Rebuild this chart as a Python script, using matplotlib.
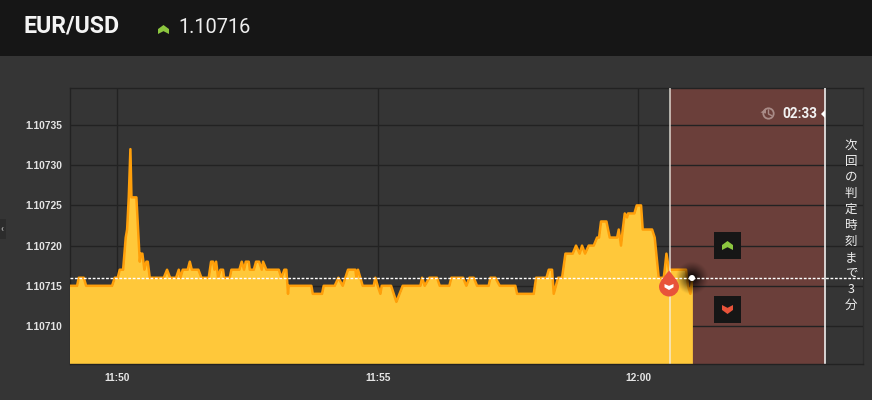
import numpy as np
import matplotlib
matplotlib.use("Agg")
import matplotlib.pyplot as plt
from matplotlib.patches import Circle, Polygon, Rectangle, PathPatch
from matplotlib.path import Path

W, H = 872, 400
pair = "EUR/USD"
current_price = 1.10716
countdown = "02:33"
side_label = list("次回の判定時刻まで3分")
y_ticks = [1.10710, 1.10715, 1.10720, 1.10725, 1.10730, 1.10735]
x_ticks = [0, 300, 600]
x_labels = ["11:50", "11:55", "12:00"]
entry_time = 636
expiry_time = 815

# seconds after 11:50
seconds = [-54.1,-46.4,-44.5,-38.7,-36,-6.1,-3,.4,2.7,6.6,9.6,11.2,13.1,15,16.2,21.9,25.8,26.9,28.8,31.1,33.4,35,37.3,
 53.4,57.2,60.7,67.6,70.7,72.6,75.3,81,83.4,85.7,93.3,96.8,105.2,107.9,110.2,111.8,113.7,116,118.7,121.7,122.9,129.4,
 131.3,140.5,143.2,145.9,147.9,151.3,152.5,157.1,159.7,163.2,166.3,167.8,171.6,185.9,188.9,192.3,194.6,196.5,197.3,
 223.4,225,235.7,237.6,250.3,254.5,259.5,265.6,274.1,275.2,277.1,282.5,295.2,297.1,299.8,302.9,304.4,315.2,321.3,328.6,
 349,350.9,353.9,359.3,368.1,371.2,382.3,384.6,398.1,401.9,405.4,410.4,414.2,427.6,429.6,435.3,440.3,458.3,460.3,479.5,
 482.2,494.1,496.8,500.6,502.5,507.5,512.1,516,524.4,528.2,532.4,535.1,538.6,542.8,548.6,552.4,554.7,557,563.2,567,575.5,
 577.4,580,582,584.3,587,588.1,595.4,598.1,603.1,605,615.8,618.8,623.4,629.2,630.3,632.3,635.3,653,654.9,657.2,659.9,662.2]
# fifth and sixth decimals of the quote, on top of 1.107
points = [15,15,16,16,15,15,16,16,17,17,21,22,26,32,26,26,18,19,19,17,18,18,16,
 16,17,16,16,17,16,17,17,18,17,17,16,16,18,18,17,18,16,17,17,16,16,
 17,17,18,17,18,18,17,17,18,18,17,18,17,17,16,17,17,14,15,
 15,14,14,15,15,16,15,17,17,16,17,15,15,16,15,14,15,15,13,15,
 15,16,15,16,16,15,15,16,16,15,16,16,15,15,16,16,15,15,14,14,
 16,16,17,17,14,16,16,19,19,20,19,20,19,20,20,21,21,23,23,21,21,
 22,20,22,24,23.5,24,24,25,25,22,22,21,16,16,17,19,17,17,17,15,14,16]
prices = [1.107 + p * 1e-5 for p in points]

BG = "#353535"; HEAD = "#161616"; GRID = "#222222"; PANEL = "#6b3f3a"
FILL = "#ffc83a"; LINE = "#ff9f0a"; TXT = "#e4e4e4"
GREEN = "#8cc63f"; RED = "#e8533a"

fig = plt.figure(figsize=(W / 100, H / 100), dpi=100, facecolor=BG)
L, R, T, B = 69.5, 863, 88, 364
ax = fig.add_axes([L / W, 1 - B / H, (R - L) / W, (B - T) / H], facecolor=BG)
sec_per_px = 60 / 52.1
px_per_price = 8.04e5
x0 = -54.1 - 0.9 * sec_per_px
xlim = (x0, x0 + (R - L) * sec_per_px)
ylim = (1.10710 - 38 / 8.04 * 1e-5, 1.10735 + 37 / 8.04 * 1e-5)

ax.axvspan(entry_time, expiry_time, color=PANEL, lw=0, zorder=1)
ax.set_yticks(y_ticks, [f"{v:.5f}" for v in y_ticks])
ax.set_xticks(x_ticks, x_labels)
ax.grid(True, color=GRID, lw=1, zorder=2)
ax.set_axisbelow(False)
for g in ax.get_xgridlines() + ax.get_ygridlines():
    g.set_zorder(2)
ax.tick_params(length=0, colors=TXT)
for lab in ax.get_xticklabels() + ax.get_yticklabels():
    lab.set_family("Liberation Sans"); lab.set_fontsize(7.4); lab.set_fontweight("bold"); lab.set_color(TXT)
ax.tick_params(axis="x", pad=6.5)
ax.tick_params(axis="y", pad=5.5)
for side, s in ax.spines.items():
    s.set_color("#2b2b2b" if side == "right" else GRID); s.set_linewidth(1); s.set_zorder(2.5)
ax.spines["bottom"].set_zorder(8)

ax.fill_between(seconds, prices, ylim[0], color=FILL, lw=0, zorder=3)
ax.fill_between([seconds[0], seconds[0] + .01], [prices[0]] * 2, ylim[0], color=FILL, lw=1, zorder=3)
ax.plot(seconds, prices, color=LINE, lw=1.8, zorder=4, solid_joinstyle="round")
ax.axvline(entry_time, color="#f4f0e8", lw=1.1, alpha=.85, zorder=5)
ax.axvline(expiry_time, color="#eeeeee", lw=1.2, zorder=5)

# dark glow behind the latest quote, below the dashed level line
yy, xx = np.mgrid[-18:18.01:.5, -18:18.01:.5]
glow = np.zeros(xx.shape + (4,))
glow[..., 3] = np.clip(1 - np.hypot(xx, yy) / 17, 0, 1) ** 1.2
dx, dy = 18 * sec_per_px, 18 / px_per_price
ax.imshow(glow, extent=(seconds[-1] - dx, seconds[-1] + dx, current_price - dy, current_price + dy),
          zorder=5.5, interpolation="bilinear", aspect="auto")
ax.axhline(current_price, color="white", lw=1, dashes=(2, 1.2), zorder=6)
ax.set_xlim(*xlim); ax.set_ylim(*ylim)

# pixel-space overlay for the surrounding interface
ov = fig.add_axes([0, 0, 1, 1], facecolor="none")
ov.set_xlim(0, W); ov.set_ylim(H, 0); ov.axis("off")
ov.add_patch(Rectangle((0, 0), W, 56, color=HEAD, lw=0))
ov.text(23, 26.5, pair, family="Roboto", weight="bold", fontsize=16.7, color="#f4f4f4", va="center", ha="left")
ov.text(178, 27.5, f"{current_price:.5f}", family="Roboto", fontsize=14.4, color="#eeeeee", va="center", ha="left")

def chevron(x, y, w, h, color, up=True):
    s = 1 if up else -1
    d = h * .45
    pts = [(x - w/2, y + s*(-h/2 + d)), (x, y - s*h/2), (x + w/2, y + s*(-h/2 + d)),
           (x + w/2, y + s*h/2), (x, y + s*(h/2 - d*.7)), (x - w/2, y + s*h/2)]
    ov.add_patch(Polygon(pts, closed=True, color=color, lw=0, zorder=12))

chevron(163.5, 29.5, 11, 9, GREEN)
for top, col, up in [(232, GREEN, True), (296, RED, False)]:
    ov.add_patch(Rectangle((714, top), 27, 27, color="#161616", lw=0, zorder=11))
    chevron(727.5, top + 13.5, 11, 9, col, up)

ov.add_patch(Circle((692, 278), 3, color="white", lw=0, zorder=10))

# entry drop
cx, cy, r = 669, 286.5, 10
verts = [(cx, cy - 16), (cx + 3, cy - 12), (cx + r, cy - 5), (cx + r, cy),
         (cx + r, cy + 5.5), (cx + 5.5, cy + r), (cx, cy + r),
         (cx - 5.5, cy + r), (cx - r, cy + 5.5), (cx - r, cy),
         (cx - r, cy - 5), (cx - 3, cy - 12), (cx, cy - 16)]
codes = [Path.MOVETO] + [Path.CURVE4] * 12
ov.add_patch(PathPatch(Path(verts, codes), fc=RED, ec="none", zorder=11))
chevron(cx, cy + .5, 9, 6, "white", up=False)

# countdown
CLK = "#a98b87"
ov.add_patch(Circle((768.5, 113.5), 5.2, fc="none", ec=CLK, lw=1.3, zorder=11))
ov.plot([768.5, 768.5, 771.5], [110, 114, 115.5], color=CLK, lw=1, zorder=11)
ov.add_patch(Polygon([(760.5, 112.5), (766, 108.5), (766, 113.5)], color=CLK, lw=0, zorder=11))
ov.text(782, 114, countdown, family="Roboto", weight="bold", fontsize=9.8, color="#f2f2f2", va="center", ha="left", zorder=11)
ov.add_patch(Polygon([(821, 114), (825, 110), (825, 118)], color="white", lw=0, zorder=11))

for i, ch in enumerate(side_label):
    ov.text(851, 145 + i * 16.07, ch, family=["Noto Sans CJK JP", "DejaVu Sans"], fontsize=9,
            color="#eeeeee", va="center", ha="center", zorder=11)

# collapsed side tab
ov.add_patch(Rectangle((0, 219), 6, 20, color="#2c2c2c", lw=0))
ov.text(1.5, 229, "‹", family="Roboto", fontsize=7, color="#cccccc", va="center", ha="center")

fig.savefig("out.png", dpi=100, facecolor=BG)
